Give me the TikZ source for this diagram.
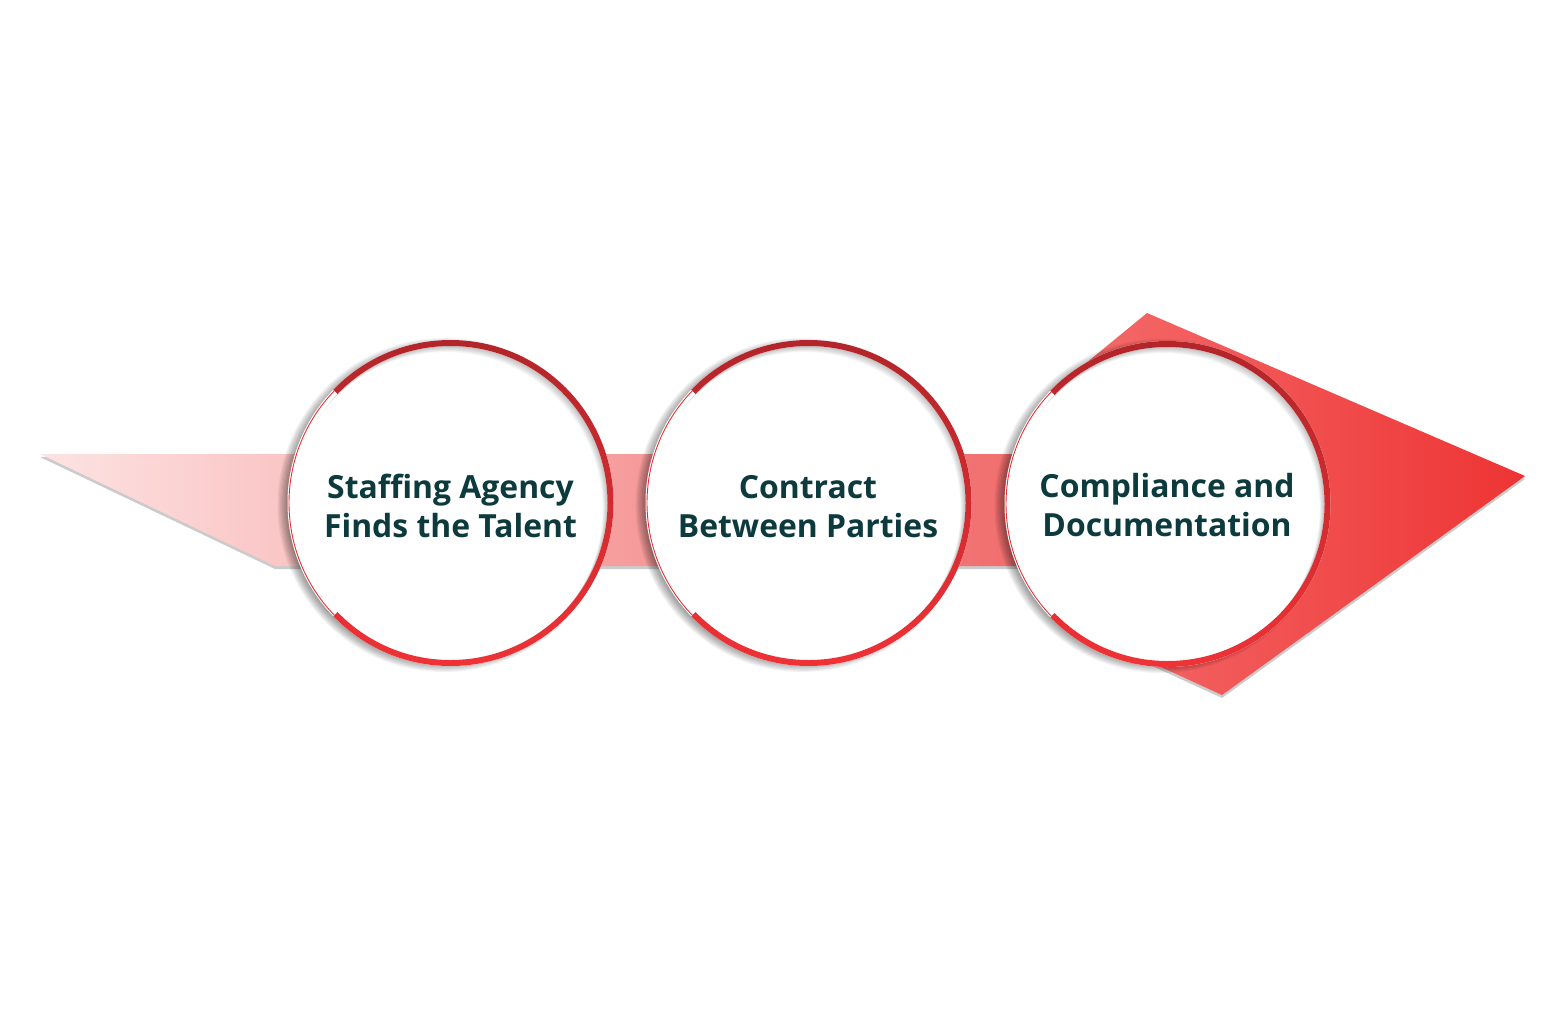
\documentclass[tikz,border=0pt]{standalone}
\usepackage{fontspec}
\setmainfont{Open Sans}
\usetikzlibrary{calc}
\definecolor{ringtop}{HTML}{B2252A}
\definecolor{ringbot}{HTML}{EF3236}
\definecolor{txtcol}{HTML}{0C3A3D}
\definecolor{bandL}{HTML}{FDE3E3}
\definecolor{bandR}{HTML}{F06464}
\definecolor{headL}{HTML}{F46A6A}
\definecolor{headR}{HTML}{EE3434}
\tikzset{
  steptext/.style={align=center, text=txtcol, font=\bfseries\fontsize{32}{39.5}\selectfont, inner sep=0pt},
  stepdisc/.style={circle, minimum size=326bp, inner sep=0pt},
  dropshade/.style={fill=black!45, opacity=0.45}
}
\newcommand\stepcircle[1]{%
  % outer soft shadow (left side)
  \foreach \k in {1,...,10}{
    \fill[black, opacity=0.05] ($(#1.center)+(-6,2)$) circle ({155+1.2*\k});
  }
  \fill[white] (#1.center) circle (163);
  % inner shadow (top and right)
  \begin{scope}
    \clip (#1.center) circle (157);
    \foreach \k in {1,...,6}{
      \fill[black, opacity=0.04, even odd rule] (#1.center) circle (175) ($(#1.center)+(-0.8*\k,1.0*\k)$) circle (157);
    }
  \end{scope}
  % thick ring (all but the left wedge)
  \begin{scope}
    \clip (#1.center) -- +(136:270) -- +(90:270) -- +(0:270) -- +(-90:270) -- +(224:270) -- cycle;
    \path[top color=ringtop, bottom color=ringbot, even odd rule] (#1.center) circle (163) (#1.center) circle (157);
  \end{scope}
  % thin left arc
  \draw[ringbot!85!ringtop, line width=0.9bp] (#1.center) ++(136:161.5) arc (136:224:161.5);
}
\begin{document}
\begin{tikzpicture}[x=1bp,y=-1bp]
\useasboundingbox[fill=white] (0,0) rectangle (1552,1008);
% band with tail
\fill[dropshade] (40,457) -- (1090,457) -- (1090,569) -- (275,569) -- cycle;
\path[left color=bandL, right color=bandR] (40,454) -- (1090,454) -- (1090,566) -- (275,566) -- cycle;
% arrow head
\fill[dropshade] (1147,316) -- (1525,479) -- (1222,698) -- (1150,665) -- (1100,503) -- (1080,371) -- cycle;
\path[left color=headL, right color=headR] (1147,313) -- (1525,476) -- (1222,695) -- (1150,662) -- (1100,500) -- (1080,368) -- cycle;
% step discs
\node[stepdisc] (s1) at (450.5,503) {};
\node[stepdisc] (s2) at (808.5,503) {};
\node[stepdisc] (s3) at (1167.5,504) {};
\stepcircle{s1}
\stepcircle{s2}
\stepcircle{s3}
\node[steptext] (t1) at (450.5,510) {\strut Staffing Agency\\\strut Finds the Talent};
\node[steptext] (t2) at (808,510) {\strut Contract\\\strut Between Parties};
\node[steptext] (t3) at (1167,509) {\strut Compliance and\\\strut Documentation};
\end{tikzpicture}
\end{document}
